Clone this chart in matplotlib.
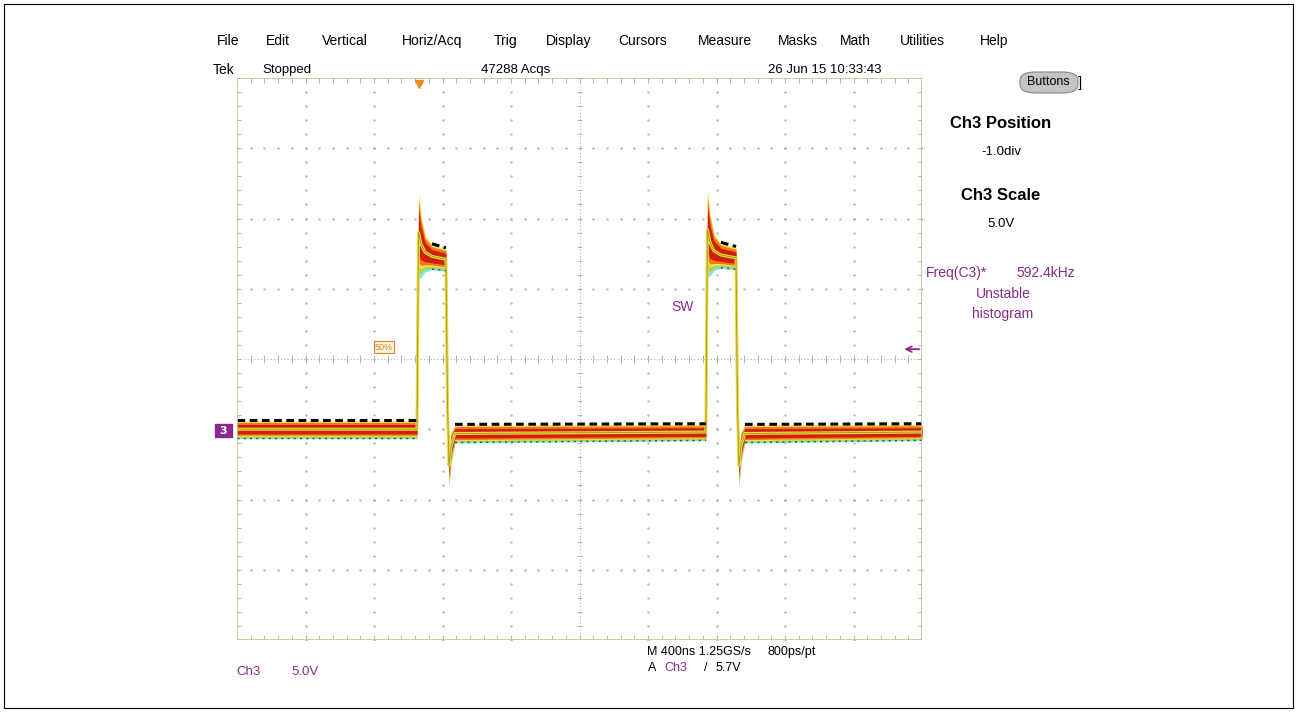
import numpy as np
import matplotlib.pyplot as plt
from matplotlib.patches import Rectangle, FancyBboxPatch

# Ch3 waveform, time in ns from left edge of screen, volts (5 V/div, ground at -1 div)
t_ns = [0, 1051, 1060, 1074, 1098, 1139, 1220, 1229, 1238, 1250, 1273,
        2738, 2747, 2762, 2785, 2826, 2914, 2922, 2931, 2943, 2966, 4000]
v_mid = [0.0, 0.0, 14.0, 13.2, 12.6, 12.3, 12.1, 2.0, -2.6, -1.2, -0.3,
         -0.2, 14.2, 13.3, 12.7, 12.4, 12.2, 2.0, -2.6, -1.2, -0.3, -0.2]
v_spread = [0.68, 0.68, 3.3, 2.4, 1.4, 0.95, 0.85, 0.5, 1.5, 1.2, 0.68,
            0.62, 3.3, 2.4, 1.4, 0.95, 0.85, 0.5, 1.5, 1.2, 0.68, 0.62]

trig_t = 1060
trig_level = 5.7

menu = ['File', 'Edit', 'Vertical', 'Horiz/Acq', 'Trig', 'Display',
        'Cursors', 'Measure', 'Masks', 'Math', 'Utilities', 'Help']
menu_x = [228, 278, 345, 432, 506, 569, 643, 725, 798, 855, 922, 994]

UI = ['Liberation Sans', 'DejaVu Sans']

W, H = 1297, 713
fig = plt.figure(figsize=(W / 100, H / 100), dpi=100)
fig.patch.set_facecolor('white')


def fx(x):
    return x / W


def fy(y):
    return 1 - y / H


# outer frame
fig.add_artist(Rectangle((fx(4), fy(708)), fx(1289), 704 / H, transform=fig.transFigure,
                         fill=False, edgecolor='black', lw=0.8))

ax = fig.add_axes([fx(237), fy(640), fx(922 - 237), (640 - 78) / H])
ax.set_xlim(0, 4000)
ax.set_ylim(-15, 25)
ax.axis('off')

# graticule
gcol = '#b4b4b4'
xdiv = np.linspace(0, 4000, 11)
ydiv = np.linspace(-15, 25, 9)
xmin = np.linspace(0, 4000, 51)
ymin = np.linspace(-15, 25, 41)
for x in xdiv[1:-1]:
    if x == 2000:
        continue
    ax.plot([x] * len(ymin), ymin, ls='none', marker='.', ms=1.4, color=gcol)
for y in ydiv[1:-1]:
    if y == 5:
        continue
    ax.plot(xmin, [y] * len(xmin), ls='none', marker='.', ms=1.4, color=gcol)
# centre lines with ticks
ax.plot([0, 4000], [5, 5], ls=(0, (1, 2)), lw=0.8, color=gcol)
ax.plot([2000, 2000], [-15, 25], ls=(0, (1, 2)), lw=0.8, color=gcol)
ax.vlines(xmin, 4.75, 5.25, color=gcol, lw=0.7)
ax.hlines(ymin, 1985, 2015, color=gcol, lw=0.7)
# border ticks
ax.vlines(xmin, 24.65, 25, color=gcol, lw=0.7)
ax.vlines(xmin, -15, -14.65, color=gcol, lw=0.7)
ax.hlines(ymin, 0, 25, color=gcol, lw=0.7)
ax.hlines(ymin, 3975, 4000, color=gcol, lw=0.7)
ax.add_patch(Rectangle((0, -15), 4000, 40, fill=False, edgecolor='#c8c08c', lw=1.2, zorder=5))

# persistence band
t = np.array(t_ns)
vm = np.array(v_mid)
sp = np.array(v_spread)
layers = [('#86e3e3', -1.0, -0.4), ('#a6d64a', -0.87, 0.2), ('#f3e04a', -0.74, 0.87),
          ('#f07a1c', -0.64, 0.72), ('#d0200c', -0.48, 0.5)]
for col, lo, hi in layers:
    ax.fill_between(t, vm + lo * sp, vm + hi * sp, color=col, lw=0, zorder=2)
ax.plot(t, vm, color='#e8d838', lw=2.2, zorder=3)
ax.plot(t, vm, color='#9a8a28', lw=0.5, zorder=3)
for i in range(len(t) - 1):
    if abs(vm[i + 1] - vm[i]) < 0.25:
        ax.plot(t[i:i + 2], vm[i:i + 2] + 0.95 * sp[i:i + 2], color='black',
                lw=2.2, ls=(0, (2.5, 1.5)), zorder=3)
        ax.plot(t[i:i + 2], vm[i:i + 2] - 0.95 * sp[i:i + 2], color='#1a5a6a',
                lw=1.0, ls=(0, (1.5, 3)), zorder=3)

# trigger position marker
ax.plot([trig_t], [24.6], marker='v', ms=6, color='#f08a20', clip_on=False, zorder=6)

purple = '#8a2a8a'
# trigger level arrow on the right
ax.annotate('', xy=(3880, trig_level), xytext=(4000, trig_level),
            arrowprops=dict(arrowstyle='->', color=purple, lw=1.3), annotation_clip=False)
# ground marker on the left
fig.add_artist(Rectangle((fx(215), fy(437)), fx(17), 13 / H, transform=fig.transFigure,
                         facecolor=purple, edgecolor=purple))
fig.text(fx(223), fy(430.5), '3', color='white', fontsize=8, fontweight='bold',
         ha='center', va='center')
# 50% label
fig.text(fx(384), fy(347), '50%', color='#c88a30', fontsize=6.5, ha='center', va='center',
         family=UI,
         bbox=dict(boxstyle='square,pad=0.15', fc='#fff4d8', ec='#c88a30', lw=0.8))
fig.text(fx(683), fy(307), 'SW', color=purple, fontsize=10, ha='center', va='center', family=UI)

# menu bar and status line
for name, x in zip(menu, menu_x):
    fig.text(fx(x), fy(41), name, fontsize=10, ha='center', va='center', family=UI)
fig.text(fx(224), fy(70), 'Tek', fontsize=10, ha='center', va='center', family=UI)
fig.text(fx(287), fy(70), 'Stopped', fontsize=9.5, ha='center', va='center', family=UI)
fig.text(fx(516), fy(70), '47288 Acqs', fontsize=9.5, ha='center', va='center', family=UI)
fig.text(fx(825), fy(70), '26 Jun 15 10:33:43', fontsize=9.5, ha='center', va='center', family=UI)

# Buttons
fig.add_artist(FancyBboxPatch((fx(1020), fy(93)), fx(58), 21 / H, transform=fig.transFigure,
                              boxstyle='round,pad=0.0,rounding_size=0.012',
                              facecolor='#c4c4c4', edgecolor='#888888', lw=0.8))
fig.text(fx(1048), fy(82), 'Buttons', fontsize=9, ha='center', va='center', family=UI)
fig.text(fx(1080), fy(83), ']', fontsize=11, ha='center', va='center', family=UI)

# right panel
fig.text(fx(1001), fy(124), 'Ch3 Position', fontsize=12, fontweight='bold', ha='center', va='center', family=UI)
fig.text(fx(1001), fy(152), '-1.0div', fontsize=9.5, ha='center', va='center', family=UI)
fig.text(fx(1001), fy(196), 'Ch3 Scale', fontsize=12, fontweight='bold', ha='center', va='center', family=UI)
fig.text(fx(1001), fy(224), '5.0V', fontsize=9.5, ha='center', va='center', family=UI)
fig.text(fx(926), fy(273), 'Freq(C3)*', fontsize=10, color=purple, ha='left', va='center', family=UI)
fig.text(fx(1075), fy(273), '592.4kHz', fontsize=10, color=purple, ha='right', va='center', family=UI)
fig.text(fx(1003), fy(294), 'Unstable', fontsize=10, color=purple, ha='center', va='center', family=UI)
fig.text(fx(1003), fy(314), 'histogram', fontsize=10, color=purple, ha='center', va='center', family=UI)

# bottom readouts
fig.text(fx(236), fy(672), 'Ch3', fontsize=9.5, color=purple, ha='left', va='center', family=UI)
fig.text(fx(291), fy(672), '5.0V', fontsize=9.5, color=purple, ha='left', va='center', family=UI)
fig.text(fx(647), fy(652), 'M 400ns 1.25GS/s', fontsize=9, ha='left', va='center', family=UI)
fig.text(fx(768), fy(652), '800ps/pt', fontsize=9, ha='left', va='center', family=UI)
fig.text(fx(648), fy(668), 'A', fontsize=9, ha='left', va='center', family=UI)
fig.text(fx(664), fy(668), 'Ch3', fontsize=9, color=purple, ha='left', va='center', family=UI)
fig.text(fx(704), fy(668), '/', fontsize=9, ha='left', va='center', family=UI)
fig.text(fx(716), fy(668), '5.7V', fontsize=9, ha='left', va='center', family=UI)

fig.savefig('out.png', dpi=100)
